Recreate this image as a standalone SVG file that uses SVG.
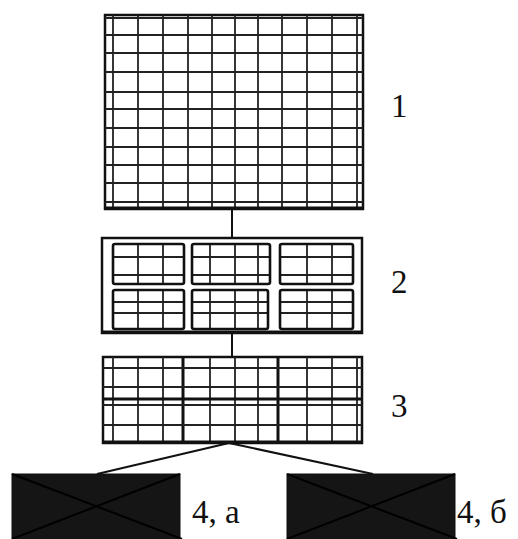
<svg xmlns="http://www.w3.org/2000/svg" width="518" height="539" viewBox="0 0 518 539">
<style>
.frame{fill:#fff;stroke:#111;stroke-width:2.5}
.g{stroke:#222;stroke-width:1.8;fill:none}
.gt{stroke:#111;stroke-width:3;fill:none}
.box{fill:none;stroke:#111;stroke-width:2.6}
.conn{stroke:#111;stroke-width:2;fill:none}
.dark{fill:#151515;stroke:#111;stroke-width:1}
.x{stroke:#000;stroke-width:2}
.lbl{font-family:"Liberation Serif","Times New Roman",serif;font-size:33px;fill:#111}
</style>
<rect width="518" height="539" fill="#fff"/>
<g id="connectors">
<line class="conn" x1="232" y1="209" x2="232" y2="238"/>
<line class="conn" x1="232" y1="333" x2="232" y2="357"/>
<line class="conn" x1="229" y1="443" x2="97" y2="474"/>
<line class="conn" x1="229" y1="443" x2="373" y2="474"/>
</g>
<g id="node1">
<rect class="frame" x="105" y="15" width="258" height="194"/>
<path class="g" d="M113 15V209M138 15V209M163 15V209M188 15V209M212 15V209M235 15V209M258 15V209M282 15V209M307 15V209M332 15V209M357 15V209"/>
<path class="g" d="M105 18H363M105 35H363M105 53H363M105 72H363M105 92H363M105 109H363M105 128H363M105 147H363M105 165H363M105 183H363M105 202H363"/>
<line class="gt" x1="104" y1="208" x2="364" y2="208"/>
<text class="lbl" x="391" y="117">1</text>
</g>
<g id="node2">
<rect class="frame" x="102" y="238" width="260" height="95"/>
<line class="gt" x1="101" y1="332" x2="363" y2="332"/>
<path class="g" d="M138 244V284M163 244V284M210 244V284M235 244V284M258 244V284M307 244V284M332 244V284M113 257H184M113 275H184M192 257H270M192 275H270M280 257H353M280 275H353"/>
<path class="g" d="M138 290V329M163 290V329M210 290V329M235 290V329M258 290V329M307 290V329M332 290V329M113 302H184M113 313H184M192 302H268M192 313H268M280 302H353M280 313H353"/>
<rect class="box" x="113" y="244" width="71" height="40" rx="2"/>
<rect class="box" x="192" y="244" width="78" height="40" rx="2"/>
<rect class="box" x="280" y="244" width="73" height="40" rx="2"/>
<rect class="box" x="113" y="290" width="71" height="39" rx="2"/>
<rect class="box" x="192" y="290" width="76" height="39" rx="2"/>
<rect class="box" x="280" y="290" width="73" height="39" rx="2"/>
<text class="lbl" x="391" y="293">2</text>
</g>
<g id="node3">
<rect class="frame" x="103" y="357" width="259" height="86"/>
<path class="g" d="M113 357V443M138 357V443M163 357V443M210 357V443M235 357V443M258 357V443M307 357V443M332 357V443M357 357V443"/>
<path class="gt" d="M183 357V443M278 357V443"/>
<path class="g" d="M103 368H362M103 387H362M103 405H362M103 425H362"/>
<path class="gt" d="M103 399H362M102 442H363"/>
<text class="lbl" x="391" y="417">3</text>
</g>
<g id="node4a">
<rect class="dark" x="12" y="474" width="168" height="66"/>
<path class="x" d="M12 474L182 539M180 474L12 539"/>
<text class="lbl" x="192" y="523">4, а</text>
</g>
<g id="node4b">
<rect class="dark" x="287" y="474" width="168" height="66"/>
<path class="x" d="M287 474L457 539M455 474L287 539"/>
<text class="lbl" x="457" y="523">4, б</text>
</g>
</svg>
